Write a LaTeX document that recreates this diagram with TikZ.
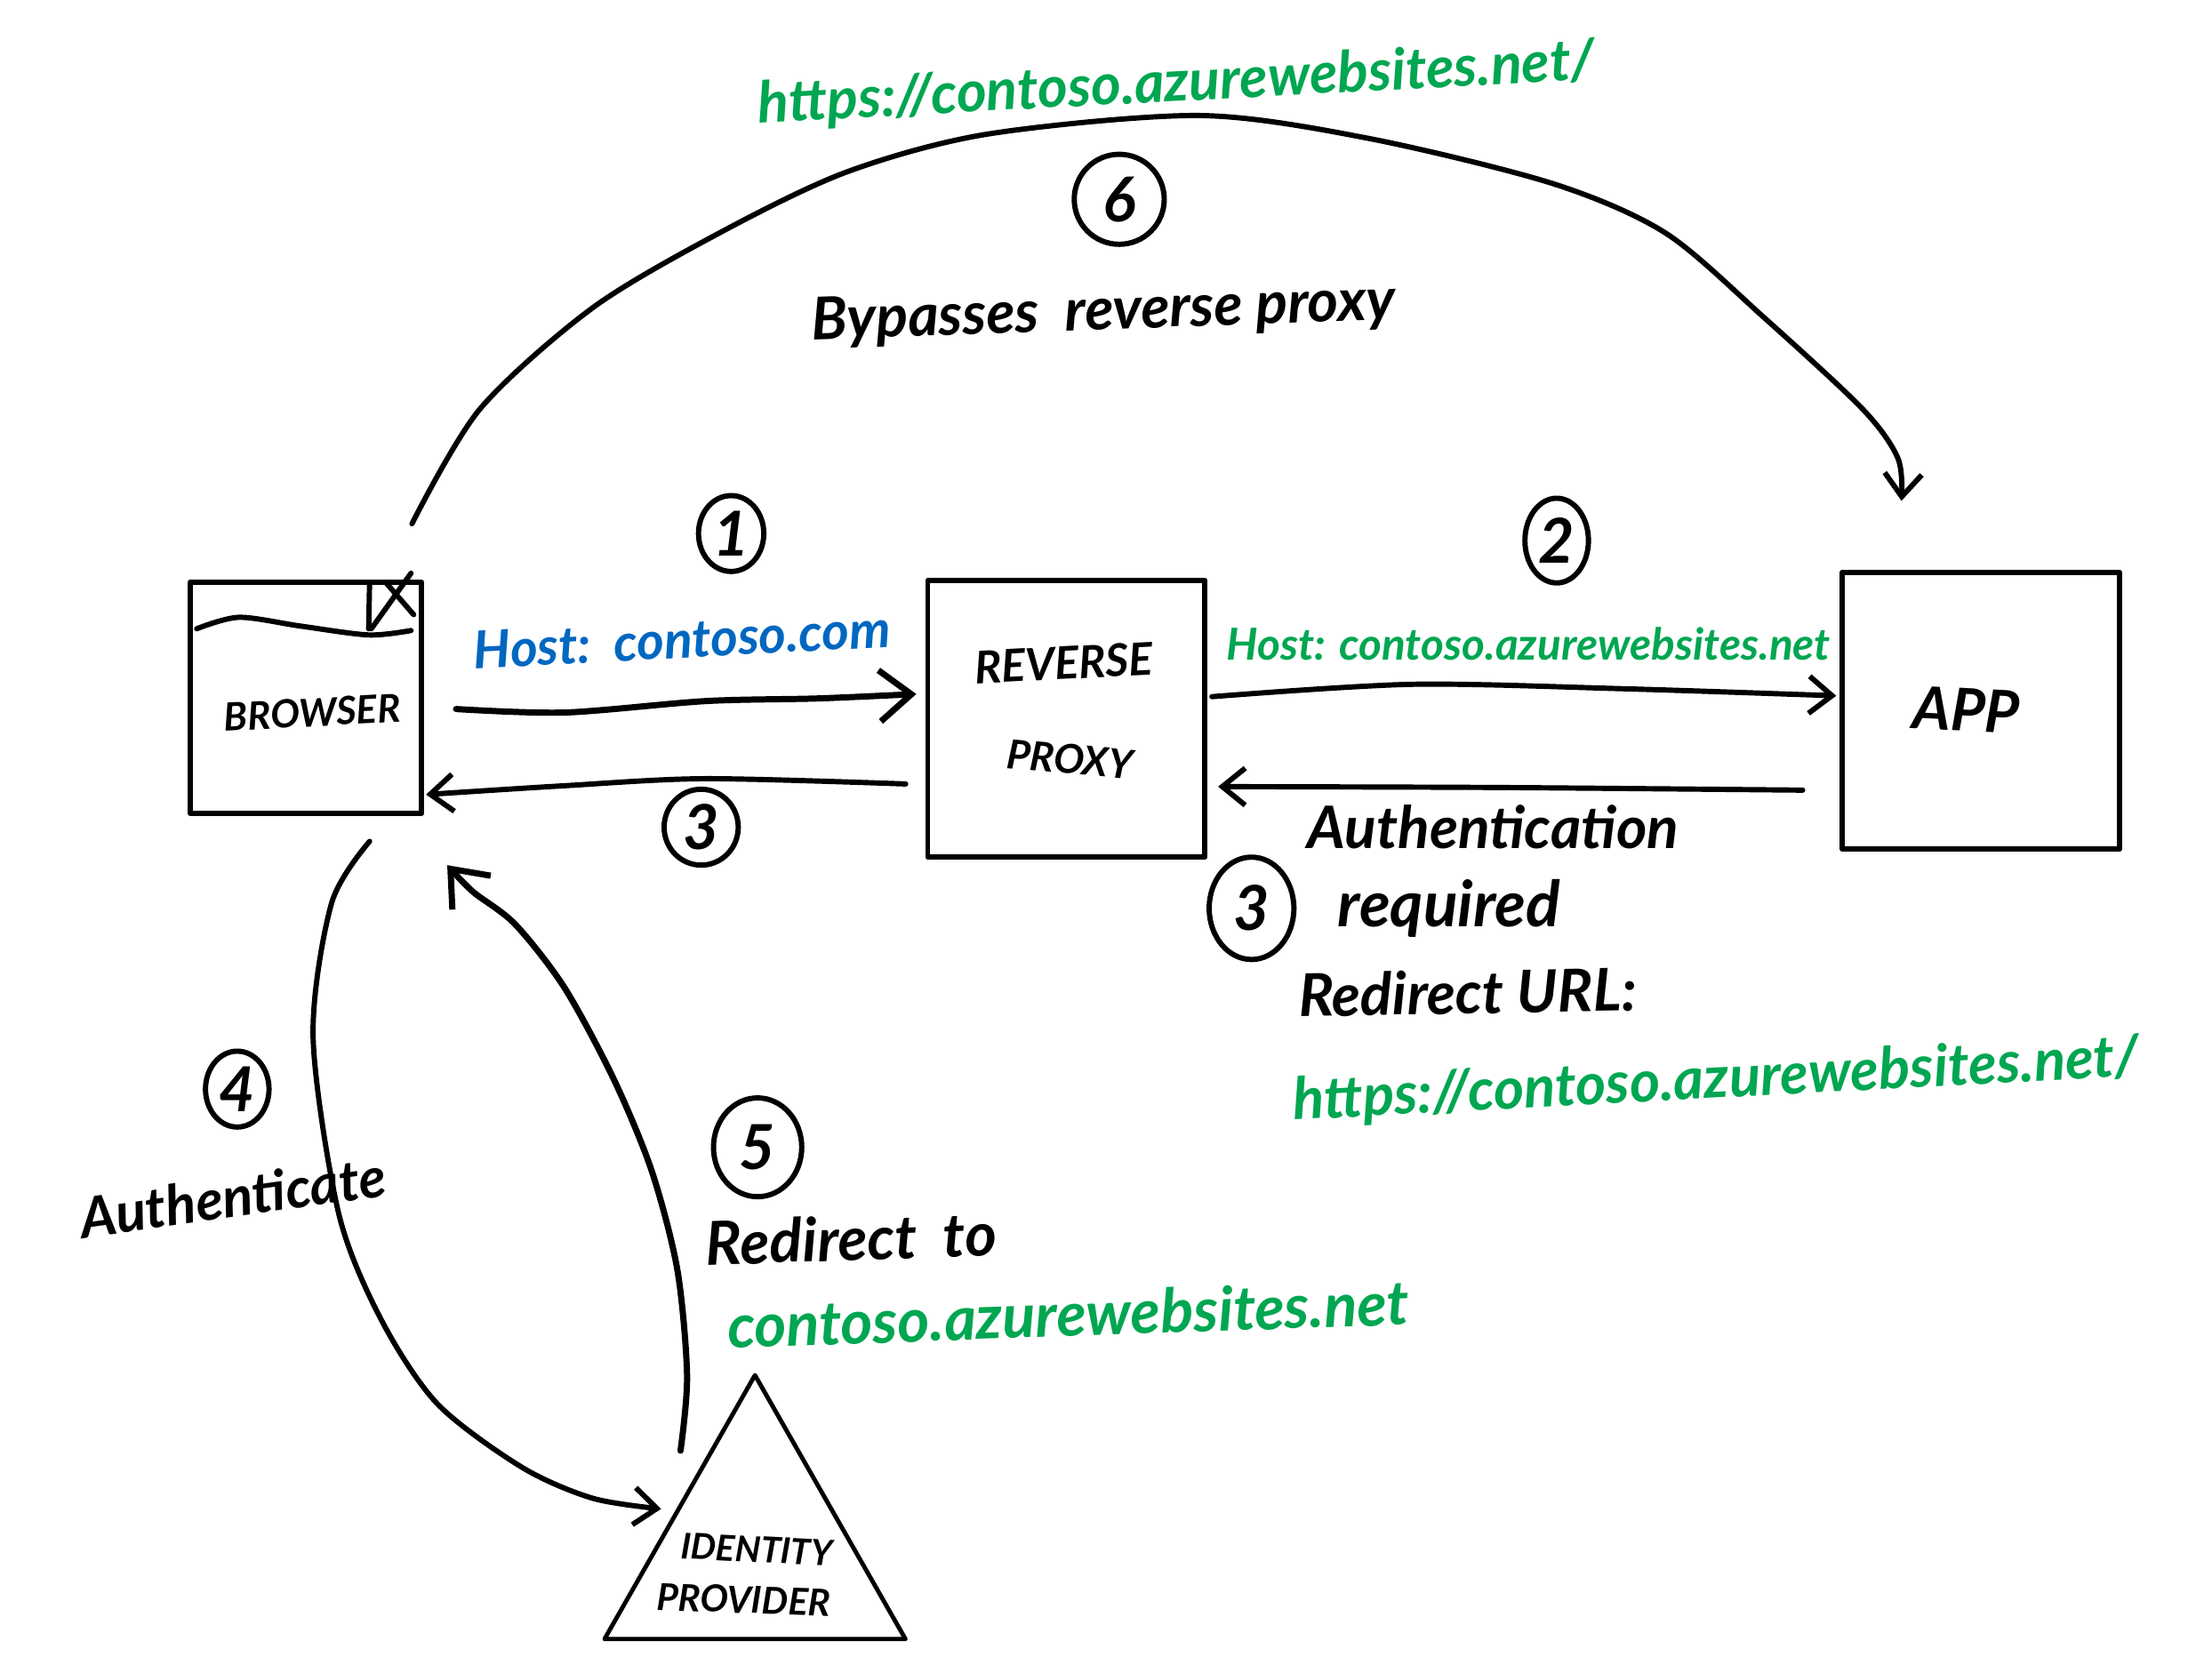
\documentclass[tikz,border=0pt]{standalone}
\usepackage{fontspec}
\setmainfont{Lato}
\usepackage{xcolor}
\usetikzlibrary{arrows.meta,shapes.geometric}
\definecolor{urlgreen}{RGB}{0,166,81}
\definecolor{hostblue}{RGB}{0,103,192}
\begin{document}
\begin{tikzpicture}[x=0.01cm,y=-0.01cm,
      line cap=round,
      line join=round,
      box/.style={
        rectangle,
        draw,
        line width=1.7pt,
        minimum size=#1,
        inner sep=0
      },
      num/.style={
        ellipse,
        draw,
        line width=1.7pt,
        inner sep=0,
        font=\fontsize{20}{20}\selectfont\itshape\bfseries
      },
      hand/.style={
        inner sep=0,
        font=\fontsize{#1}{#1}\selectfont\itshape\bfseries
      },
      flow/.style={
        line width=1.7pt,
        -{Straight Barb[length=2.6mm,width=4.2mm,line width=1.7pt]}
      },
      bigflow/.style={
        line width=2pt,
        -{Straight Barb[length=3.6mm,width=5.8mm,line width=2pt]}
      }
    ]
    \useasboundingbox (0,0) rectangle (2508,1897);
    % the three boxes and the triangle
    \node[box=2.62cm] (browser) at (347,791) {};
    \node[box=3.14cm] (proxy) at (1209,815) {};
    \node[box=3.14cm] (app) at (2246,806) {};
    \node[draw,line width=1.4pt,isosceles triangle,shape border rotate=90,
      isosceles triangle stretches,minimum width=3.41cm,minimum height=2.99cm,
      inner sep=0,anchor=apex] (idp) at (856,1553) {};
    % title bar of the browser
    \draw[line width=1.7pt] plot[smooth] coordinates {(223,713) (271,700) (341,710) (418,720) (466,715)};
    \draw[line width=1.7pt] (419,662) -- (418,713);
    \draw[line width=1.7pt] (466,650) -- (421,713);
    \draw[line width=1.7pt] (437,660) -- (469,697);
    % box texts
    \node[hand=12.5,rotate=3] (browsertext) at ([shift={(7,17)}]browser.center) {BROWSER};
    \node[hand=14.5,rotate=3] (reversetext) at ([shift={(-3,-63)}]proxy.center) {REVERSE};
    \node[hand=13,rotate=-5] (proxytext) at ([shift={(4,46)}]proxy.center) {PROXY};
    \node[hand=19,rotate=-3] (apptext) at ([shift={(-17,-1)}]app.center) {APP};
    \node[hand=11.5,rotate=-3] (idtext) at (858,1757) {IDENTITY};
    \node[hand=12,rotate=-2] (providertext) at (843,1814) {PROVIDER};
    % numbers
    \node[num,minimum width=1.02cm,minimum height=1.02cm] (six) at (1269,226) {6};
    \node[num,minimum width=0.74cm,minimum height=0.86cm] (one) at (829,605) {1};
    \node[num,minimum width=0.72cm,minimum height=0.96cm] (two) at (1765,613) {2};
    \node[num,minimum width=0.84cm,minimum height=0.86cm] (three) at (795,938) {3};
    \node[num,minimum width=0.96cm,minimum height=1.16cm] (threeb) at (1419,1030) {3};
    \node[num,minimum width=0.72cm,minimum height=0.86cm] (four) at (269,1235) {4};
    \node[num,minimum width=1cm,minimum height=1.12cm] (five) at (859,1301) {5};
    % labels
    \node[hand=18.5,text=urlgreen,rotate=3] (topurl) at (1334,96) {https://contoso.azurewebsites.net/};
    \node[hand=19,rotate=2] (bypass) at (1251,355) {Bypasses\ \ reverse proxy};
    \node[hand=16.8,text=hostblue,rotate=3] (hosta) at (773,725) {Host:\ \ contoso.com};
    \node[hand=14.2,text=urlgreen] (hostb) at (1733,730) {Host: contoso.azurewebsites.net};
    \node[hand=18.9] (authtext) at (1693,938) {Authentication};
    \node[hand=20.5] (reqtext) at (1643,1030) {required};
    \node[hand=19,rotate=1] (redirurl) at (1664,1125) {Redirect URL:};
    \node[hand=18.7,text=urlgreen,rotate=3] (boturl) at (1946,1226) {https://contoso.azurewebsites.net/};
    \node[hand=18,rotate=8] (authenticate) at (264,1357) {Authenticate};
    \node[hand=19.5,rotate=2] (redirto) at (965,1404) {Redirect\ \ to};
    \node[hand=19.7,text=urlgreen,rotate=2] (idpurl) at (1211,1490) {contoso.azurewebsites.net};
    % connectors
    \draw[bigflow] plot[smooth] coordinates {([shift={(36,13)}]browser.east) (640,808) (800,795) (928,792) ([shift={(-10,-28)}]proxy.west)};
    \draw[flow] plot[smooth] coordinates {([shift={(-22,74)}]proxy.west) (800,883) (640,891) ([shift={(2,110)}]browser.east)};
    \draw[flow] plot[smooth] coordinates {([shift={(5,-25)}]proxy.east) (1600,776) (1840,781) ([shift={(-4,-17)}]app.west)};
    \draw[flow] plot[smooth] coordinates {([shift={(-42,90)}]app.west) (1700,893) ([shift={(12,77)}]proxy.east)};
    \draw[flow] plot[smooth] coordinates {([shift={(-14,-63)}]browser.north east) (544,464) (672,349) (816,264) (960,195) (1120,152) (1360,131) (1552,157) (1760,208) (1888,264) (2000,360) (2112,464) (2152,520) ([shift={(70,-78)}]app.north west)};
    \draw[flow] plot[smooth] coordinates {([shift={(-62,29)}]browser.south east) (376,1024) (355,1176) (384,1376) (432,1496) (496,1592) (592,1664) (672,1699) ([shift={(-19,4)}]idp.left side)};
    \draw[bigflow] plot[smooth] coordinates {([shift={(3,-62)}]idp.left side) (779,1560) (768,1440) (739,1328) (696,1224) (640,1120) (584,1048) (536,1011) ([shift={(26,56)}]browser.south east)};
  \end{tikzpicture}
\end{document}
